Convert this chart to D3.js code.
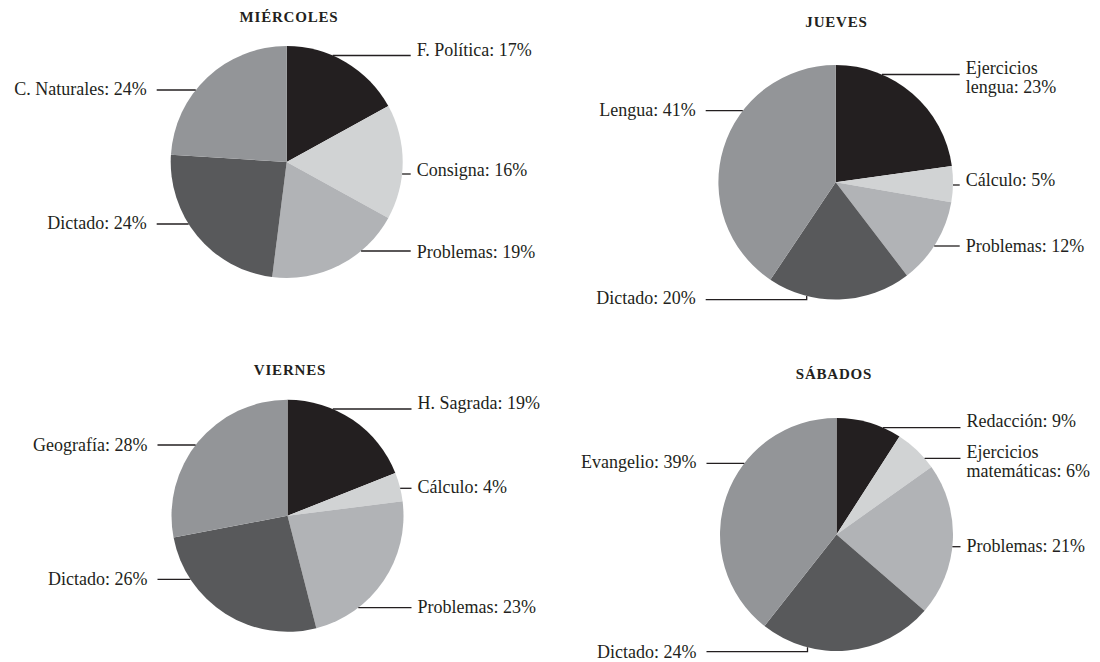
<!DOCTYPE html>
<html><head><meta charset="utf-8">
<script src="https://cdn.jsdelivr.net/npm/d3@7"></script>
<style>
html,body{margin:0;padding:0;background:#fff;}
svg{display:block;}
text{font-family:"Liberation Serif","Times New Roman",serif;fill:#231f20;}
</style></head>
<body>
<svg id="chart" width="1100" height="662"></svg>
<script>
// ---- data ----
const days = ["MIÉRCOLES", "JUEVES", "VIERNES", "SÁBADOS"];
const miercolesCats = ["F. Política", "Consigna", "Problemas", "Dictado", "C. Naturales"];
const miercolesVals = [17, 16, 19, 24, 24];
const juevesCats = ["Ejercicios\nlengua", "Cálculo", "Problemas", "Dictado", "Lengua"];
const juevesVals = [23, 5, 12, 20, 41];
const viernesCats = ["H. Sagrada", "Cálculo", "Problemas", "Dictado", "Geografía"];
const viernesVals = [19, 4, 23, 26, 28];
const sabadosCats = ["Redacción", "Ejercicios\nmatemáticas", "Problemas", "Dictado", "Evangelio"];
const sabadosVals = [9, 6, 21, 24, 39];
const sliceColors = ["#231f20", "#d1d3d4", "#b1b3b6", "#58595b", "#939598"];

// ---- layout (positions only) ----
const layout = [
  {cx: 286.7, cy: 162, r: 116, tx: 289, ty: 22.3,
   lead: [55.5, 174, 251, 224, 90], base: [55.5, 176, 257.5, 229, 95], elbow: [null, null, null, null, null]},
  {cx: 835.7, cy: 182.3, r: 117.3, tx: 836.5, ty: 26.7,
   lead: [74.5, 185, 246, 299.7, 110.7], base: [73.8, 186, 251.7, 303.7, 115.8], elbow: [null, null, null, -29, null]},
  {cx: 287.5, cy: 515.8, r: 116, tx: 290, ty: 375,
   lead: [409, 488.3, 607.7, 579.3, 445], base: [409, 492.7, 613.3, 585, 450.7], elbow: [null, null, null, null, null]},
  {cx: 836.5, cy: 534.5, r: 116.5, tx: 834, ty: 379,
   lead: [427.7, 458.3, 546.7, 651.7, 463.3], base: [426.7, 457.7, 551.7, 658.3, 468.3], elbow: [null, null, null, -29, null]}
];
const dataSets = [
  [miercolesCats, miercolesVals],
  [juevesCats, juevesVals],
  [viernesCats, viernesVals],
  [sabadosCats, sabadosVals]
];

const svg = d3.select("#chart");
const pie = d3.pie().sort(null).value(d => d.v);
const color = d3.scaleOrdinal().domain(d3.range(5)).range(sliceColors);

dataSets.forEach(([cats, vals], i) => {
  const L = layout[i];
  const data = cats.map((c, j) => ({c, v: vals[j], j}));
  const arcs = pie(data);
  const arc = d3.arc().innerRadius(0).outerRadius(L.r);
  const g = svg.append("g");

  svg.append("text")
    .attr("x", L.tx).attr("y", L.ty)
    .attr("text-anchor", "middle")
    .style("font-weight", "bold").style("font-size", "15px").style("letter-spacing", "0.8px")
    .text(days[i]);

  g.append("g").attr("transform", `translate(${L.cx},${L.cy})`)
    .selectAll("path").data(arcs).join("path")
    .attr("d", arc)
    .attr("fill", d => color(d.data.j));

  arcs.forEach((a, j) => {
    const mid = (a.startAngle + a.endAngle) / 2;
    const right = L.elbow[j] != null ? L.elbow[j] > 0 : mid < Math.PI;
    const ly = L.lead[j];
    const dy = ly - L.cy;
    let pts;
    if (L.elbow[j] != null) {
      const ex = L.cx + L.elbow[j];
      const ey = L.cy + Math.sqrt(L.r * L.r - L.elbow[j] * L.elbow[j]);
      pts = [[L.cx - 130, ly], [ex, ly], [ex, ey]];
    } else {
      const dx = Math.sqrt(Math.max(0, L.r * L.r - dy * dy));
      pts = right ? [[L.cx + dx, ly], [L.cx + 124, ly]] : [[L.cx - 130, ly], [L.cx - dx, ly]];
    }
    g.append("path")
      .attr("d", d3.line()(pts))
      .attr("fill", "none").attr("stroke", "#231f20").attr("stroke-width", 1.3);

    const lines = (a.data.c + ": " + a.data.v + "%").split("\n");
    const t = g.append("text")
      .attr("x", right ? L.cx + 130 : L.cx - 140)
      .attr("y", L.base[j])
      .attr("text-anchor", right ? "start" : "end")
      .style("font-size", "18px");
    lines.forEach((ln, k) => {
      t.append("tspan").attr("x", right ? L.cx + 130 : L.cx - 140)
        .attr("dy", k === 0 ? 0 : 19).text(ln);
    });
  });
});
</script>
</body></html>
